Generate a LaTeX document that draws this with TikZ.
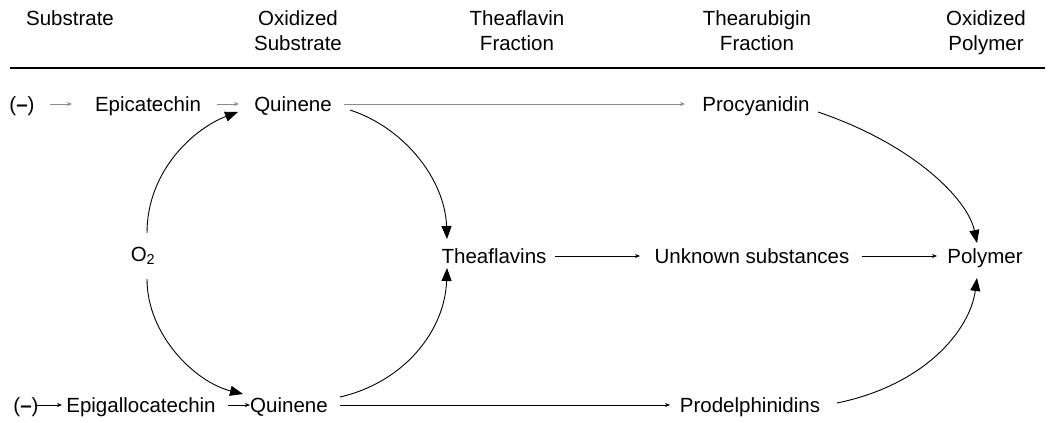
\documentclass[tikz,border=0pt]{standalone}
\usepackage{fontspec}
\setmainfont{Liberation Sans}
\usetikzlibrary{arrows.meta}
\begin{document}
\begin{tikzpicture}[x=1pt,y=-1pt,
  lbl/.style={inner sep=0pt, font=\fontsize{20.5}{25}\selectfont, anchor=center, text height=14pt, text depth=0pt},
  hdr/.style={lbl, align=center},
  sarrow/.style={line width=0.8pt, -{Stealth[length=5pt,width=4pt]}},
  garrow/.style={sarrow, draw=black!45},
  carrow/.style={line width=0.9pt, -{Triangle[length=13pt,width=10pt]}}]
\useasboundingbox (0,0) rectangle (1050,423);
% headers
\node[lbl] (hs) at (70,18) {Substrate};
\node[hdr] (ho) at (298,43) {Oxidized\\Substrate};
\node[hdr] (ht) at (517,43) {Theaflavin\\Fraction};
\node[hdr] (hr) at (757,43) {Thearubigin\\Fraction};
\node[hdr] (hp) at (986,43) {Oxidized\\Polymer};
\coordinate (rl) at (10,68);
\coordinate (rr) at (1045,68);
\draw[line width=1.4pt] (rl) -- (rr);
% row 1
\node[lbl] (m1) at (22,104) {(\textbf{–})};
\node[lbl] (epi) at (148,104) {Epicatechin};
\node[lbl] (q1) at (293,104) {Quinene};
\node[lbl] (pc) at (756,104) {Procyanidin};
% row 2
\node[lbl] (o2) at (143,254) {O\textsubscript{2}};
\node[lbl] (th) at (494,256) {Theaflavins};
\node[lbl] (un) at (752,256) {Unknown substances};
\node[lbl] (po) at (985,256) {Polymer};
% row 3
\node[lbl] (m2) at (26,405) {(\textbf{–})};
\node[lbl] (epg) at (141,405) {Epigallocatechin};
\node[lbl] (q2) at (289,405) {Quinene};
\node[lbl] (pd) at (750,405) {Prodelphinidins};
% straight arrows
\draw[garrow] ([xshift=28pt]m1.center) -- ([xshift=-76pt]epi.center);
\draw[garrow] ([xshift=69pt]epi.center) -- ([xshift=-54pt]q1.center);
\draw[garrow] ([xshift=51pt]q1.center) -- ([xshift=-71pt]pc.center);
\draw[sarrow] ([xshift=61pt]th.center) -- ([xshift=-112pt]un.center);
\draw[sarrow] ([xshift=110pt]un.center) -- ([xshift=-48pt]po.center);
\draw[sarrow] ([xshift=11pt]m2.center) -- ([xshift=-79pt]epg.center);
\draw[sarrow] ([xshift=87pt]epg.center) -- ([xshift=-39pt]q2.center);
\draw[sarrow] ([xshift=51pt]q2.center) -- ([xshift=-80pt]pd.center);
% curved arrows
\draw[carrow] ([shift={(4,-21)}]o2.center) .. controls (147,170) and (195,128) .. ([shift={(-55,8)}]q1.center);
\draw[carrow] ([shift={(4,25)}]o2.center) .. controls (147,335) and (195,382) .. ([shift={(-46,-11)}]q2.center);
\draw[carrow] ([shift={(57,6)}]q1.center) .. controls (405,128) and (445,180) .. ([shift={(-47,-17)}]th.center);
\draw[carrow] ([shift={(51,-8)}]q2.center) .. controls (405,382) and (445,330) .. ([shift={(-47,12)}]th.center);
\draw[carrow] ([shift={(62,8)}]pc.center) .. controls (915,145) and (968,200) .. ([shift={(-8,-13)}]po.center);
\draw[carrow] ([shift={(87,-2)}]pd.center) .. controls (925,385) and (970,330) .. ([shift={(-8,22)}]po.center);
\end{tikzpicture}
\end{document}
